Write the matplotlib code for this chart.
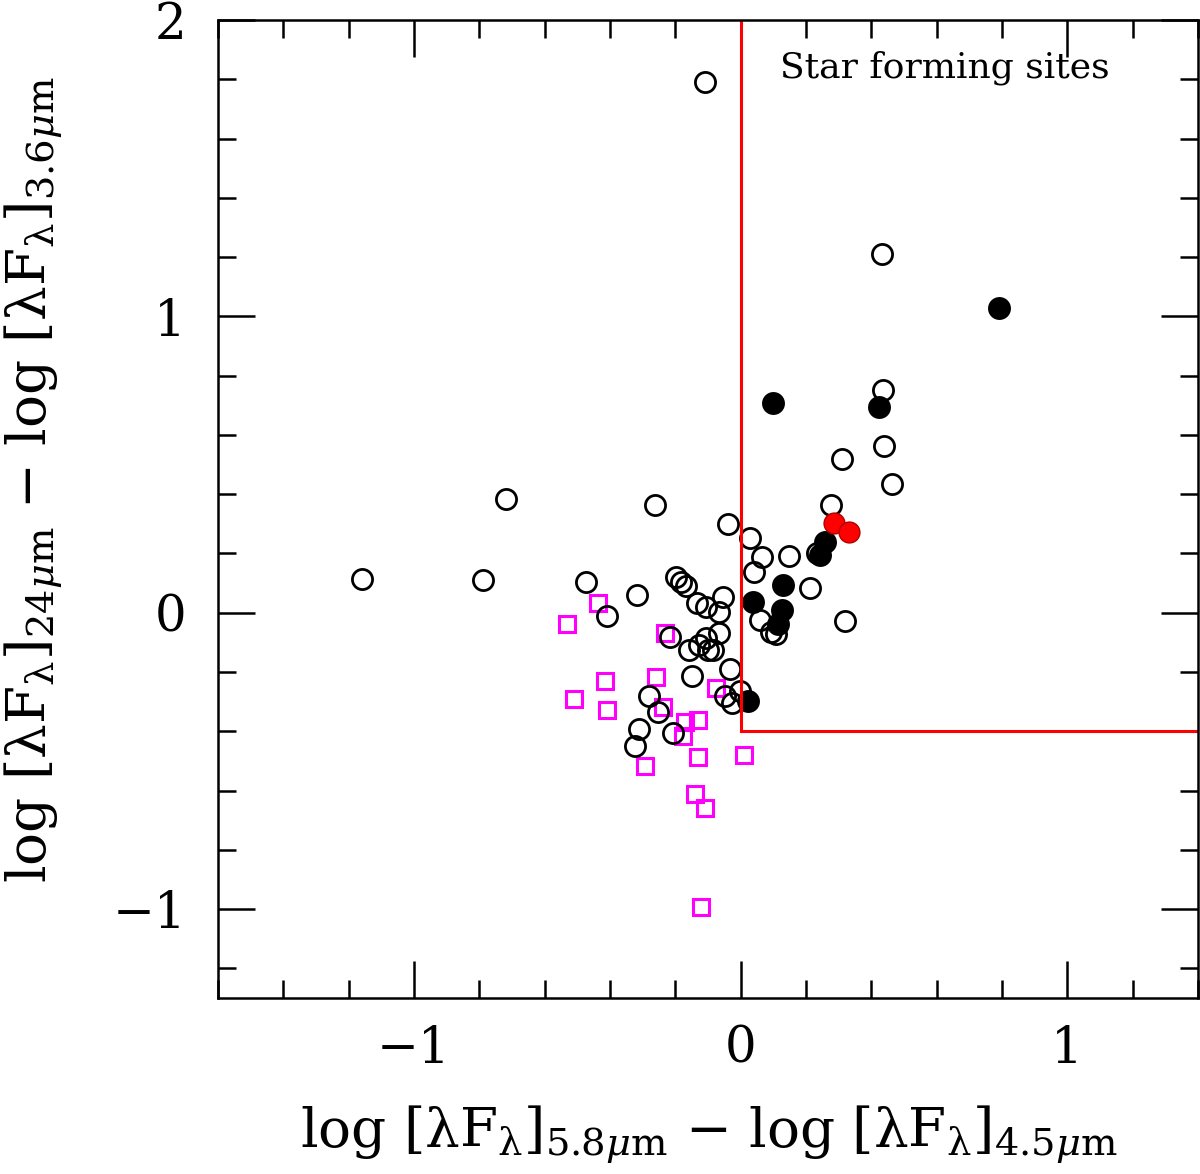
import matplotlib
matplotlib.use('Agg')
import matplotlib.pyplot as plt
from matplotlib.ticker import MultipleLocator

plt.rcParams['font.family'] = ['DejaVu Serif']
plt.rcParams['mathtext.fontset'] = 'dejavuserif'

# open circles
open_x = [-1.159, -0.788, -0.717, -0.472, -0.316, -0.408, -0.263, -0.110, -0.038,
          -0.199, -0.166, -0.183, -0.135, -0.107, -0.054, -0.067, -0.217, -0.159,
          -0.128, -0.106, -0.084, -0.066, -0.101, -0.148, -0.032, -0.281, -0.253,
          -0.310, -0.324, -0.207, -0.047, -0.028, -0.003, 0.028, 0.066, 0.040,
          0.147, 0.211, 0.058, 0.107, 0.320, 0.235, 0.277, 0.311, 0.435, 0.440,
          0.464, 0.434, 0.092]
open_y = [0.115, 0.111, 0.383, 0.104, 0.061, -0.010, 0.362, 1.790, 0.298,
          0.121, 0.089, 0.104, 0.032, 0.020, 0.052, 0.002, -0.081, -0.125,
          -0.108, -0.084, -0.125, -0.068, -0.125, -0.215, -0.190, -0.280, -0.335,
          -0.393, -0.451, -0.405, -0.282, -0.304, -0.265, 0.251, 0.189, 0.138,
          0.190, 0.083, -0.024, -0.071, -0.029, 0.202, 0.364, 0.519, 0.752, 0.563,
          0.435, 1.210, -0.064]

# filled black circles
fill_x = [0.099, 0.425, 0.792, 0.257, 0.242, 0.131, 0.038, 0.127, 0.114, 0.022]
fill_y = [0.707, 0.695, 1.028, 0.240, 0.195, 0.094, 0.037, 0.010, -0.037, -0.299]

# red filled circles
red_x = [0.286, 0.332]
red_y = [0.304, 0.271]

# magenta squares
sq_x = [-0.531, -0.438, -0.232, -0.509, -0.414, -0.408, -0.258, -0.238, -0.076,
        -0.171, -0.131, -0.178, -0.132, 0.010, -0.294, -0.139, -0.109, -0.122]
sq_y = [-0.038, 0.033, -0.068, -0.291, -0.231, -0.329, -0.218, -0.319, -0.254,
        -0.368, -0.363, -0.415, -0.486, -0.481, -0.516, -0.613, -0.658, -0.993]

fig = plt.figure(figsize=(12, 11.74), dpi=100)
ax = fig.add_axes([0.1817, 0.1499, 0.8166, 0.8331])

ax.plot(sq_x, sq_y, 's', ms=11.5, mfc='none', mec='#ff00ff', mew=2.2)
ax.plot(open_x, open_y, 'o', ms=14.5, mfc='none', mec='black', mew=2.0)
ax.plot(fill_x, fill_y, 'o', ms=15, mfc='black', mec='black', mew=1.5)
ax.plot(red_x, red_y, 'o', ms=15, mfc='red', mec='#b00000', mew=1.0)

# star forming region boundary
ax.plot([0, 0], [-0.4, 2.0], color='red', lw=2.2)
ax.plot([0, 1.4], [-0.4, -0.4], color='red', lw=2.2)

ax.text(0.624, 1.807, 'Star forming sites', fontsize=26, ha='center', va='baseline')

ax.set_xlim(-1.6, 1.4)
ax.set_ylim(-1.3, 2.0)
ax.xaxis.set_major_locator(MultipleLocator(1))
ax.xaxis.set_minor_locator(MultipleLocator(0.2))
ax.yaxis.set_major_locator(MultipleLocator(1))
ax.yaxis.set_minor_locator(MultipleLocator(0.2))
ax.tick_params(which='both', direction='in', top=True, right=True, width=1.8)
ax.tick_params(which='major', length=26.5, labelsize=36)
ax.tick_params(which='minor', length=13)
ax.tick_params(axis='x', which='major', pad=19)
ax.tick_params(axis='y', which='major', pad=23)
for s in ax.spines.values():
    s.set_linewidth(1.8)

xlab = (r'$\mathrm{log\ [\lambda F_\lambda]}_{\mathrm{5.8}\mu\mathrm{m}}'
        r'\ \mathrm{-\ log\ [\lambda F_\lambda]}_{\mathrm{4.5}\mu\mathrm{m}}$')
ylab = (r'$\mathrm{log\ [\lambda F_\lambda]}_{\mathrm{24}\mu\mathrm{m}}'
        r'\ \mathrm{-\ log\ [\lambda F_\lambda]}_{\mathrm{3.6}\mu\mathrm{m}}$')
fig.text(709 / 1200, 1 - 1148 / 1174, xlab, fontsize=39.5, ha='center', va='baseline')
fig.text(47 / 1200, 1 - 480 / 1174, ylab, fontsize=39.5, ha='center', va='baseline',
         rotation=90, rotation_mode='anchor')

fig.savefig('out.png', dpi=100)
